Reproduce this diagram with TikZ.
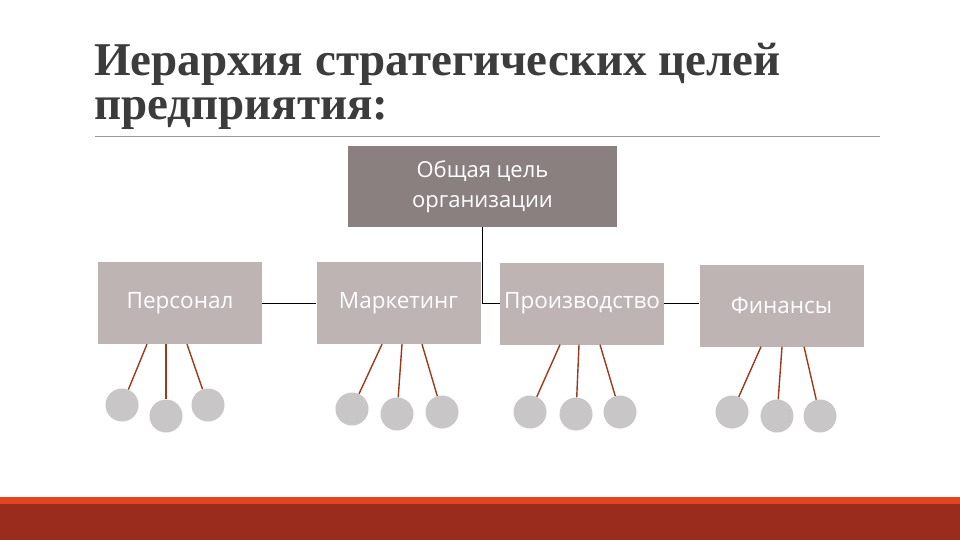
\documentclass[tikz,border=0pt]{standalone}
\usepackage{fontspec}
\setmainfont{Liberation Serif}
\newfontfamily\boxfont{Open Sans}
\usetikzlibrary{calc}
\definecolor{titlegray}{HTML}{3C3C3C}
\definecolor{topfill}{HTML}{8A8080}
\definecolor{boxfill}{HTML}{BEB4B4}
\definecolor{circfill}{HTML}{C8C6C6}
\definecolor{leafline}{HTML}{9C3A1A}
\definecolor{bandorange}{HTML}{E0471E}
\definecolor{banddark}{HTML}{9A2C1E}
\tikzset{
  topbox/.style={fill=topfill, minimum width=269pt, minimum height=81pt, inner sep=0pt, text=white, font=\boxfont\fontsize{22}{30}\selectfont, align=center},
  deptbox/.style={fill=boxfill, minimum width=164pt, minimum height=82pt, inner sep=0pt, text=white, font=\boxfont\fontsize{22.5}{26}\selectfont},
  leaf/.style={circle, fill=circfill, minimum size=33pt, inner sep=0pt},
  link/.style={draw=black, line width=0.9pt},
  leaflink/.style={draw=leafline, line width=1.4pt},
  titletext/.style={anchor=base west, inner sep=0pt, text=titlegray, font=\fontsize{47}{47}\bfseries\selectfont},
}
\begin{document}
\begin{tikzpicture}[x=1pt,y=-1pt]
\useasboundingbox (0,0) rectangle (960,540);
\fill[white] (0,0) rectangle (960,540);
% title
\node[titletext] (t1) at (94,76) {Иерархия стратегических целей};
\node[titletext] (t2) at (94,120) {предприятия:};
\coordinate (r1) at (95,136);
\coordinate (r2) at (880,136);
\draw[gray!80, line width=0.8pt] (r1) -- (r2);
% boxes
\node[topbox] (top) at (482.5,186.5) {Общая цель\\организации};
\node[deptbox] (pers) at (180,303) {Персонал};
\node[deptbox] (mark) at (398.5,303) {Маркетинг};
\node[deptbox] (prod) at (582,303.5) {Производство};
\node[deptbox] (fin) at (781.5,305.5) {Финансы};
% connectors
\draw[link] (pers.east |- 0,303) -- (mark.west |- 0,303);
\draw[link] (prod.east |- 0,303) -- (fin.west |- 0,303);
\draw[link] (top.south) |- (prod.west |- 0,303);
% leaves
\node[leaf] (p1) at (122,405) {};
\node[leaf] (p2) at (166,416) {};
\node[leaf] (p3) at (208,405) {};
\node[leaf] (m1) at (352,409) {};
\node[leaf] (m2) at (397,414) {};
\node[leaf] (m3) at (442,412) {};
\node[leaf] (d1) at (530,412) {};
\node[leaf] (d2) at (576,414) {};
\node[leaf] (d3) at (620,412) {};
\node[leaf] (f1) at (732,412) {};
\node[leaf] (f2) at (777,416) {};
\node[leaf] (f3) at (820,416) {};
\draw[leaflink] (pers.south -| 147,0) -- (p1);
\draw[leaflink] (pers.south -| 166,0) -- (p2);
\draw[leaflink] (pers.south -| 187,0) -- (p3);
\draw[leaflink] (mark.south -| 382,0) -- (m1);
\draw[leaflink] (mark.south -| 402,0) -- (m2);
\draw[leaflink] (mark.south -| 422,0) -- (m3);
\draw[leaflink] (prod.south -| 560,0) -- (d1);
\draw[leaflink] (prod.south -| 579,0) -- (d2);
\draw[leaflink] (prod.south -| 600,0) -- (d3);
\draw[leaflink] (fin.south -| 761,0) -- (f1);
\draw[leaflink] (fin.south -| 782,0) -- (f2);
\draw[leaflink] (fin.south -| 804,0) -- (f3);
% bottom band
\fill[bandorange] (0,497) rectangle (960,504);
\fill[banddark] (0,504) rectangle (960,540);
\end{tikzpicture}
\end{document}
